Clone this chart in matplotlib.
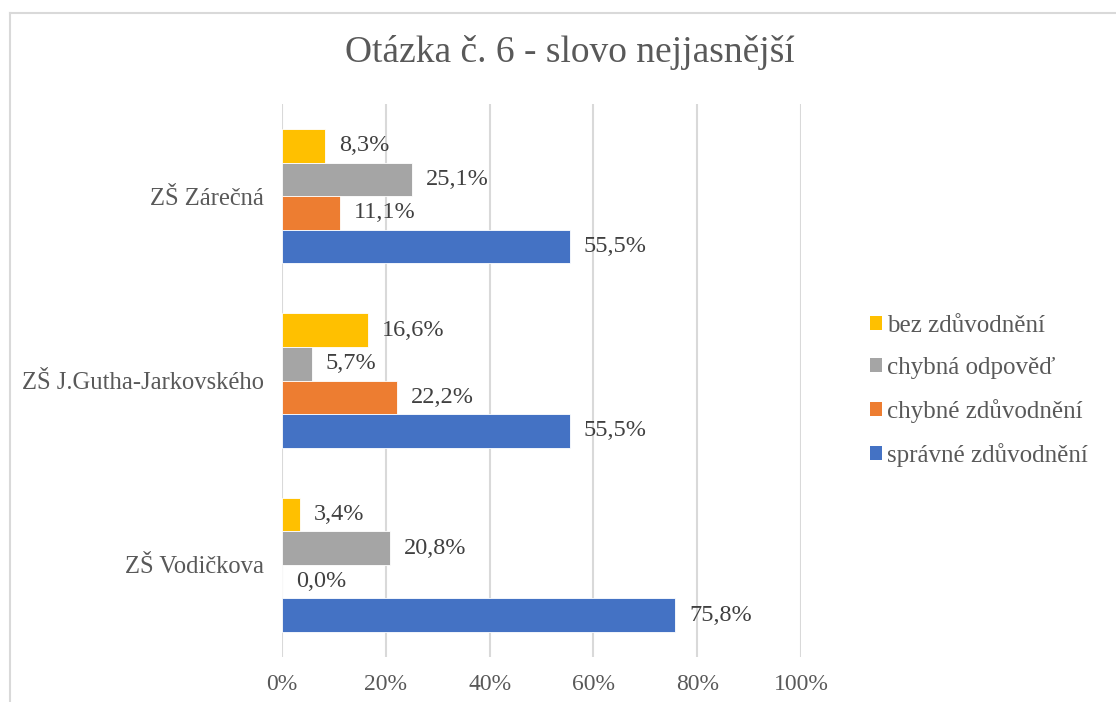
import numpy as np
import matplotlib.pyplot as plt
from matplotlib.lines import Line2D
from matplotlib.patches import Patch

plt.rcParams['font.family'] = ['Liberation Serif', 'DejaVu Serif']

schools = ['ZŠ Vodičkova', 'ZŠ J.Gutha-Jarkovského', 'ZŠ Zárečná']
series = ['bez zdůvodnění', 'chybná odpověď', 'chybné zdůvodnění', 'správné zdůvodnění']
bez = [3.4, 16.6, 8.3]
chybna = [20.8, 5.7, 25.1]
chybne = [0.0, 22.2, 11.1]
spravne = [75.8, 55.5, 55.5]
colors = ['#FFC000', '#A5A5A5', '#ED7D31', '#4472C4']
ticks = [0, 20, 40, 60, 80, 100]

fig = plt.figure(figsize=(11.16, 7.02), dpi=100)
ax = fig.add_axes([282 / 1116, 1 - 657 / 702, 519 / 1116, 553 / 702])

y = np.arange(len(schools))
h = 0.182
values = [bez, chybna, chybne, spravne]
offsets = [1.5 * h, 0.5 * h, -0.5 * h, -1.5 * h]

for vals, off, col in zip(values, offsets, colors):
    bars = ax.barh(y + off, vals, height=h, color=col, edgecolor='white', linewidth=0.6, zorder=3)
    for b, v in zip(bars, vals):
        ax.annotate(f"{v:.1f}%".replace('.', ','), (b.get_width(), b.get_y() + h / 2),
                    xytext=(10, 0), textcoords='offset points', ha='left', va='center',
                    fontsize=17.5, color='#404040')

ax.set_xlim(0, 100)
ax.set_ylim(-0.5, 2.5)
ax.set_xticks(ticks)
ax.set_xticklabels([f"{t}%" for t in ticks], fontsize=17, color='#595959')
ax.set_yticks(y)
ax.set_yticklabels(schools, fontsize=17.7, color='#595959')
ax.tick_params(axis='x', length=0, pad=12)
ax.tick_params(axis='y', length=0, pad=13)
ax.grid(axis='x', color='#d9d9d9', linewidth=1.5, zorder=0)
for s in ax.spines.values():
    s.set_visible(False)

fig.text(570 / 1116, 1 - 52 / 702, 'Otázka č. 6 - slovo nejjasnější', ha='center', va='center',
         fontsize=27, color='#595959')

handles = [Patch(facecolor=c) for c in colors]
fig.legend(handles, series, loc='center left', bbox_to_anchor=(860 / 1116, 1 - 391 / 702),
           frameon=False, fontsize=18, labelcolor='#595959', handlelength=0.5, handleheight=0.5,
           handletextpad=0.2, labelspacing=0.8, borderaxespad=0)

# chart border
fig.add_artist(Line2D([10 / 1116, 1], [1 - 13 / 702, 1 - 13 / 702], color='#d9d9d9', linewidth=1.5))
fig.add_artist(Line2D([10 / 1116, 10 / 1116], [0, 1 - 13 / 702], color='#d9d9d9', linewidth=1.5))

fig.savefig('out.png', dpi=100)
